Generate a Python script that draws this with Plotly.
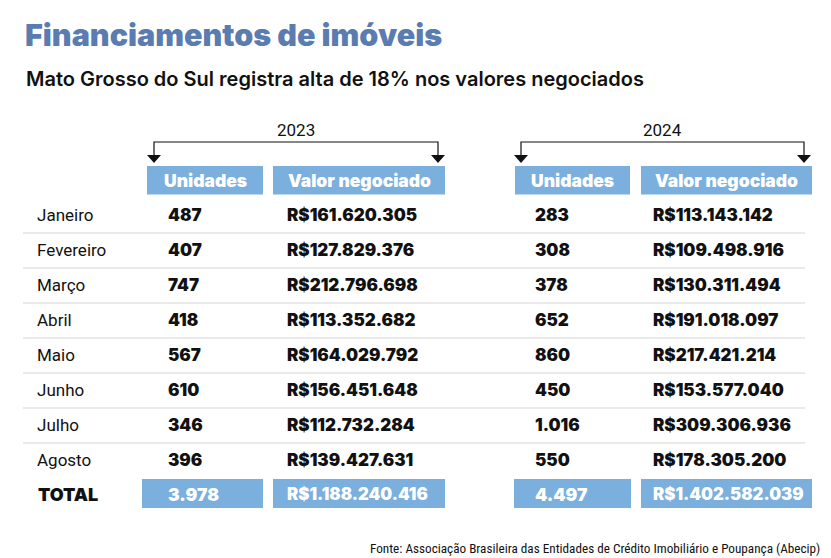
import plotly.graph_objects as go

# ---- data ----
months = ["Janeiro", "Fevereiro", "Março", "Abril", "Maio", "Junho", "Julho", "Agosto"]
years = ["2023", "2024"]
col_headers = ["Unidades", "Valor negociado"]
units_2023 = ["487", "407", "747", "418", "567", "610", "346", "396"]
value_2023 = ["R$161.620.305", "R$127.829.376", "R$212.796.698", "R$113.352.682",
              "R$164.029.792", "R$156.451.648", "R$112.732.284", "R$139.427.631"]
units_2024 = ["283", "308", "378", "652", "860", "450", "1.016", "550"]
value_2024 = ["R$113.143.142", "R$109.498.916", "R$130.311.494", "R$191.018.097",
              "R$217.421.214", "R$153.577.040", "R$309.306.936", "R$178.305.200"]
total_label = "TOTAL"
total_units = ["3.978", "4.497"]
total_values = ["R$1.188.240.416", "R$1.402.582.039"]
title = "Financiamentos de imóveis"
subtitle = "Mato Grosso do Sul registra alta de 18% nos valores negociados"
source = "Fonte: Associação Brasileira das Entidades de Crédito Imobiliário e Poupança (Abecip)"

# ---- styling ----
W, H = 831, 558
BLUE = "#7bafdd"
TITLE_BLUE = "#5a7cb1"
GRID = "#e3e3e3"
BOLD_FONT = "Inter"
REG_FONT = "Roboto"

row0_y = 215
row_step = 35
label_x = 35
groups = [
    dict(units=units_2023, values=value_2023, ux=166, vx=285,
         hbox_u=(147, 263), hbox_v=(273, 445), tbox_u=(142, 263), tbox_v=(273, 445),
         br=(154, 438)),
    dict(units=units_2024, values=value_2024, ux=533, vx=651,
         hbox_u=(515, 630), hbox_v=(641, 812), tbox_u=(514, 631), tbox_v=(641, 812),
         br=(521, 804)),
]

fig = go.Figure()
shapes = []
ann = []

def text(x, y, s, size, color="#111", family=REG_FONT, weight=400, xanchor="left"):
    ann.append(dict(x=x, y=y, xref="x", yref="y", text=s, showarrow=False,
                    xanchor=xanchor, yanchor="middle",
                    font=dict(size=size, color=color, family=family, weight=weight)))

def rect(x0, x1, y0, y1, color):
    shapes.append(dict(type="rect", xref="x", yref="y", x0=x0, x1=x1, y0=y0, y1=y1,
                       fillcolor=color, line=dict(width=0), layer="below"))

# title & subtitle
text(23, 34, title, 30.5, TITLE_BLUE, BOLD_FONT, 900)
text(24, 79, subtitle, 20, "#111", BOLD_FONT, 600)

# brackets, year labels, header boxes
for g, yr in zip(groups, years):
    bx0, bx1 = g["br"]
    text((bx0 + bx1) / 2, 130, yr, 17, "#111", REG_FONT, 400, "center")
    shapes.append(dict(type="path", xref="x", yref="y",
                       path=f"M {bx0} 156 L {bx0} 142 L {bx1} 142 L {bx1} 156",
                       line=dict(color="#111", width=1.2)))
    for bx in (bx0, bx1):
        shapes.append(dict(type="path", xref="x", yref="y",
                           path=f"M {bx-7} 155 L {bx+7} 155 L {bx} 163 Z",
                           fillcolor="#111", line=dict(width=0)))
    for (x0, x1), h in zip((g["hbox_u"], g["hbox_v"]), col_headers):
        rect(x0, x1, 166, 194.5, BLUE)
        text((x0 + x1) / 2, 180.5, h, 17.5, "white", BOLD_FONT, 900, "center")

# row separators
for i in range(len(months) - 1):
    y = row0_y + row_step * i + 18
    shapes.append(dict(type="line", xref="x", yref="y", x0=23, x1=805, y0=y, y1=y,
                       line=dict(color=GRID, width=1.5), layer="below"))

# rows
for i, m in enumerate(months):
    y = row0_y + row_step * i
    text(label_x, y, m, 17, "#111", REG_FONT, 400)
    for g in groups:
        text(g["ux"], y, g["units"][i], 17, "#111", BOLD_FONT, 900)
        text(g["vx"], y, g["values"][i], 17, "#111", BOLD_FONT, 900)

# totals
ty = row0_y + row_step * len(months) - 1
text(label_x + 1, ty, total_label, 18, "#111", BOLD_FONT, 900)
for g, tu, tv in zip(groups, total_units, total_values):
    rect(g["tbox_u"][0], g["tbox_u"][1], 479, 508, BLUE)
    rect(g["tbox_v"][0], g["tbox_v"][1], 479, 508, BLUE)
    text(g["ux"], ty, tu, 17.5, "white", BOLD_FONT, 900)
    text(g["vx"], ty, tv, 16.8, "white", BOLD_FONT, 900)

# source
text(822, 548, source, 13.2, "#111", "Roboto Condensed", 400, "right")

fig.update_layout(
    width=W, height=H, margin=dict(l=0, r=0, t=0, b=0),
    paper_bgcolor="white", plot_bgcolor="white",
    xaxis=dict(range=[0, W], visible=False, fixedrange=True),
    yaxis=dict(range=[H, 0], visible=False, fixedrange=True),
    shapes=shapes, annotations=ann, showlegend=False,
)
fig.write_html("out.html", config={"displayModeBar": False},
               post_script="document.body.style.margin='0';")
